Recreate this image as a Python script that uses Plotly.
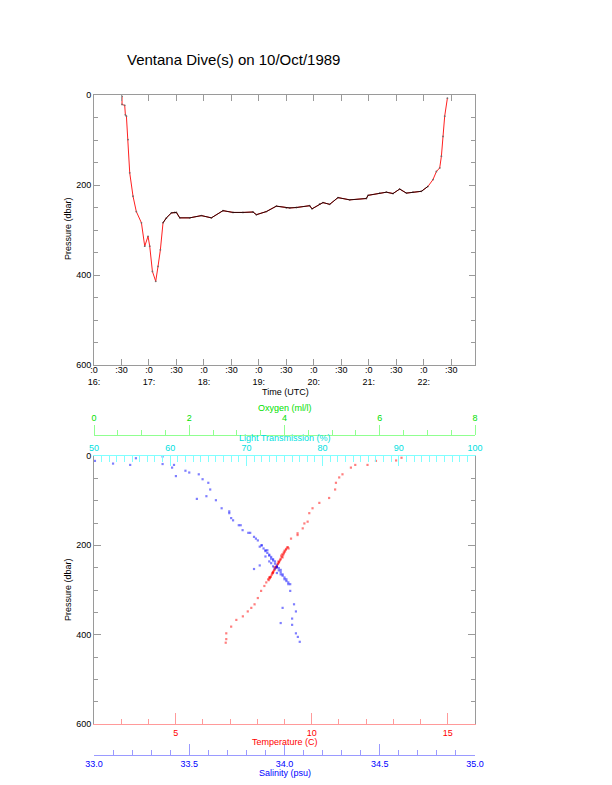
import plotly.graph_objects as go

W, H = 612, 785
PAGE_MARGIN = 8   # the html body margin shifts the figure by this many px

# ---------------- data: dive track (top panel) ----------------
DATE = "1989-10-10"
track_time = ["16:30:36", "16:30:36", "16:33:32", "16:34:16", "16:35:24", "16:37:08", "16:39:00",
              "16:42:36", "16:46:12", "16:51:47", "16:55:23", "16:58:59", "17:00:50", "17:03:47",
              "17:07:23", "17:09:54", "17:12:29", "17:15:22", "17:19:05", "17:24:32", "17:28:08",
              "17:30:00", "17:33:36", "17:44:31", "17:57:18", "18:08:10", "18:20:53", "18:31:48",
              "18:42:36", "18:53:38", "18:57:18", "19:08:13", "19:19:08", "19:30:04", "19:33:40",
              "19:41:00", "19:55:30", "19:58:01", "20:06:25", "20:10:01", "20:17:20", "20:26:24",
              "20:39:11", "20:57:25", "20:59:10", "21:11:56", "21:19:16", "21:26:28", "21:33:47",
              "21:41:06", "21:48:18", "21:57:29", "22:04:41", "22:10:08", "22:13:52", "22:17:28",
              "22:19:19", "22:21:04", "22:22:55", "22:25:52"]
track_pres = [3, 21, 23, 44, 47, 99, 173,
              225, 259, 284, 336, 314, 336, 392,
              414, 381, 344, 284, 273, 262, 261,
              261, 273, 273, 268, 273, 257, 261,
              261, 260, 266, 259, 247, 251, 251,
              250, 246, 253, 242, 239, 243, 228,
              233, 230, 223, 218, 216, 219, 209,
              218, 216, 214, 203, 188, 170, 162,
              136, 92, 47, 7]
BOTTOM_FIRST, BOTTOM_LAST = 17, 52   # index span of the bottom phase

time_ticks = ["16:00", "16:30", "17:00", "17:30", "18:00", "18:30", "19:00", "19:30",
              "20:00", "20:30", "21:00", "21:30", "22:00", "22:30"]
time_tick_text = [":0<br>16:", ":30", ":0<br>17:", ":30", ":0<br>18:", ":30", ":0<br>19:", ":30",
                  ":0<br>20:", ":30", ":0<br>21:", ":30", ":0<br>22:", ":30"]
time_range = ["16:00:00", "22:56:00"]

# ---------------- data: profiles (bottom panel) ----------------
temp_T = [13.3, 13.1, 12.36, 12.05, 11.6, 11.44, 11.13, 11.01, 10.89, 10.86, 10.64, 10.28, 10.03,
          9.91, 9.85, 9.73, 9.67, 9.48, 9.48, 9.24, 9.12, 9.06, 8.93, 8.88, 8.79, 8.69, 8.63,
          8.57, 8.45, 8.45, 8.33, 8.26, 8.14, 8.02, 7.90, 7.78, 7.65, 7.47, 7.23, 7.04, 6.86,
          6.86, 6.84,
          9.10, 9.05, 9.02, 8.98, 8.95, 8.90, 8.86, 8.83, 8.80, 8.76, 8.72, 8.68, 8.64, 8.60,
          8.57, 8.53, 8.50, 8.46, 8.42, 9.15, 8.92, 8.85, 8.75, 8.62, 8.55, 8.48, 8.40, 8.97,
          8.70, 9.00, 8.78, 8.58]
temp_P = [4, 10, 11, 20, 20, 26, 41, 48, 60, 75, 94, 105, 117,
          128, 147, 151, 162, 173, 177, 185, 204, 208, 227, 223, 238, 249, 249,
          261, 272, 272, 283, 291, 302, 318, 332, 340, 348, 359, 367, 382, 397,
          410, 418,
          205, 210, 214, 218, 222, 226, 230, 234, 238, 242, 246, 250, 254, 258,
          262, 266, 270, 274, 278, 207, 220, 232, 241, 255, 263, 271, 276, 216,
          248, 212, 236, 260]

sal_S = [33.005, 33.22, 33.36, 33.10, 33.19, 33.36, 33.42, 33.41, 33.43, 33.48, 33.50, 33.55,
         33.57, 33.60, 33.61, 33.59, 33.54, 33.64, 33.67, 33.71, 33.72, 33.76, 33.78, 33.82,
         33.84, 33.86, 33.88, 33.90, 33.92, 33.94, 33.96, 33.99, 34.01, 34.03,
         33.71, 33.73, 33.77, 33.81, 33.85, 33.88, 33.91, 33.93, 33.96, 33.98, 34.00, 34.02,
         34.03, 34.05, 34.06, 34.04, 34.04, 34.06, 34.07, 34.08, 33.99, 33.98, 33.84, 33.87,
         33.87, 33.89, 33.90, 33.91, 33.92, 33.93, 33.94, 33.95, 33.95, 33.96, 33.97, 33.97,
         33.98, 33.99, 34.00, 34.01, 33.93, 33.95, 33.94, 33.98, 33.92, 33.96, 34.02, 33.90]
sal_P = [11, 5, 1, 17, 20, 18, 20, 26, 45, 33, 37, 41,
         52, 60, 75, 90, 96, 99, 117, 128, 139, 155, 166, 172,
         181, 189, 200, 211, 223, 234, 249, 265, 276, 287,
         124, 144, 155, 172, 185, 200, 211, 230, 249, 265, 276, 287,
         302, 332, 348, 364, 378, 397, 405, 416, 340, 374, 253, 245,
         203, 207, 213, 217, 221, 226, 231, 236, 241, 245, 251, 256,
         260, 268, 272, 280, 240, 252, 247, 255, 236, 262, 283, 225]

pres_ticks = [0, 200, 400, 600]

# ---------------- styling / layout helpers ----------------
FONT = "Liberation Sans, Arial, Helvetica, sans-serif"
GRAY = "#9a9a9a"
def px_x(p):
    return (p - PAGE_MARGIN) / W
def px_y(p):
    return 1 - (p - PAGE_MARGIN) / H

XDOM = [px_x(94), px_x(475)]
TOP_YDOM = [px_y(365), px_y(95)]
BOT_YDOM = [px_y(724), px_y(456)]

fig = go.Figure()

ttimes = [f"{DATE} {t}" for t in track_time]
fig.add_trace(go.Scatter(x=ttimes, y=track_pres, mode="lines+markers",
                         line=dict(color="#ff2020", width=1),
                         marker=dict(color="#7a6a6a", size=1.8),
                         xaxis="x", yaxis="y", hoverinfo="skip", showlegend=False))
fig.add_trace(go.Scatter(x=ttimes[BOTTOM_FIRST:BOTTOM_LAST + 1],
                         y=track_pres[BOTTOM_FIRST:BOTTOM_LAST + 1], mode="lines",
                         line=dict(color="#2a0505", width=1),
                         xaxis="x", yaxis="y", hoverinfo="skip", showlegend=False))

fig.add_trace(go.Scatter(x=temp_T, y=temp_P, mode="markers",
                         marker=dict(color="rgba(255,0,0,0.5)", size=2.2, symbol="square",
                                     line=dict(width=0)),
                         xaxis="x2", yaxis="y2", hoverinfo="skip", showlegend=False))
fig.add_trace(go.Scatter(x=sal_S, y=sal_P, mode="markers",
                         marker=dict(color="rgba(0,0,255,0.5)", size=2.2, symbol="square",
                                     line=dict(width=0)),
                         xaxis="x5", yaxis="y2", hoverinfo="skip", showlegend=False))
# placeholders so the extra axes are drawn
fig.add_trace(go.Scatter(x=[None], y=[None], xaxis="x3", yaxis="y2", showlegend=False, hoverinfo="skip"))
fig.add_trace(go.Scatter(x=[None], y=[None], xaxis="x4", yaxis="y2", showlegend=False, hoverinfo="skip"))

tickfont = dict(family=FONT, size=9, color="black")

fig.update_layout(
    template="none",
    width=W, height=H, autosize=False,
    margin=dict(l=0, r=0, t=0, b=0, pad=0),
    paper_bgcolor="white", plot_bgcolor="white",
    showlegend=False,
    font=dict(family=FONT, size=9, color="black"),
    xaxis=dict(domain=XDOM, anchor="y", type="date", automargin=False,
               range=[f"{DATE} {time_range[0]}", f"{DATE} {time_range[1]}"],
               tickvals=[f"{DATE} {t}" for t in time_ticks], ticktext=time_tick_text,
               ticks="inside", ticklen=6, tickcolor=GRAY, showline=True, linecolor=GRAY,
               mirror="ticks", showgrid=False, zeroline=False, tickfont=tickfont,
               tickangle=0, ticklabelstandoff=-4),
    yaxis=dict(domain=TOP_YDOM, anchor="x", range=[600, 0], automargin=False,
               tickvals=pres_ticks, ticks="inside", ticklen=6, tickcolor=GRAY,
               minor=dict(dtick=50, ticks="inside", ticklen=4, tickcolor=GRAY, showgrid=False),
               showline=True, linecolor=GRAY, mirror="ticks", showgrid=False, zeroline=False,
               tickfont=tickfont),
    # temperature (bottom of lower panel)
    xaxis2=dict(domain=XDOM, anchor="y2", side="bottom", range=[2, 16], automargin=False,
                tickvals=[5, 10, 15], ticks="inside", ticklen=11, tickcolor="#ff9a9a",
                minor=dict(dtick=1, ticks="inside", ticklen=5, tickcolor="#ff9a9a", showgrid=False),
                showline=True, linecolor="#ff9a9a", showgrid=False, zeroline=False,
                tickfont=dict(family=FONT, size=9, color="#ff0000")),
    # light transmission (top of lower panel)
    xaxis3=dict(overlaying="x2", anchor="y2", side="top", range=[50, 100], automargin=False,
                dtick=10, ticks="inside", ticklen=10, tickcolor="#80ffff",
                minor=dict(dtick=1, ticks="inside", ticklen=6, tickcolor="#80ffff", showgrid=False),
                showline=True, linecolor="#80ffff", showgrid=False, zeroline=False,
                tickfont=dict(family=FONT, size=9, color="#00e0e0")),
    # oxygen (free axis above)
    xaxis4=dict(overlaying="x2", anchor="free", position=px_y(435), side="top", range=[0, 8],
                automargin=False,
                dtick=2, ticks="outside", ticklen=10, tickcolor="#90ff90",
                minor=dict(dtick=0.5, ticks="outside", ticklen=5, tickcolor="#90ff90", showgrid=False),
                showline=True, linecolor="#90ff90", showgrid=False, zeroline=False,
                tickfont=dict(family=FONT, size=9, color="#00e000")),
    # salinity (free axis below)
    xaxis5=dict(overlaying="x2", anchor="free", position=px_y(755), side="bottom",
                range=[33.0, 35.0], tickvals=[33.0, 33.5, 34.0, 34.5, 35.0],
                ticktext=["33.0", "33.5", "34.0", "34.5", "35.0"], automargin=False,
                ticks="inside", ticklen=11, tickcolor="#9a9aff",
                minor=dict(dtick=0.1, ticks="inside", ticklen=5, tickcolor="#9a9aff", showgrid=False),
                showline=True, linecolor="#9a9aff", showgrid=False, zeroline=False,
                tickfont=dict(family=FONT, size=9, color="#0000ff")),
    yaxis2=dict(domain=BOT_YDOM, anchor="x2", range=[600, 0], automargin=False,
                tickvals=pres_ticks, ticks="inside", ticklen=7, tickcolor=GRAY,
                minor=dict(dtick=50, ticks="inside", ticklen=4, tickcolor=GRAY, showgrid=False),
                showline=True, linecolor=GRAY, mirror="ticks", showgrid=False, zeroline=False,
                tickfont=tickfont),
)

def label(text, x, y, color="black", size=9, angle=0):
    fig.add_annotation(text=text, x=px_x(x), y=px_y(y), xref="paper", yref="paper",
                       showarrow=False, textangle=angle, xanchor="center", yanchor="middle",
                       font=dict(family=FONT, size=size, color=color))

label("Ventana Dive(s) on 10/Oct/1989", 233, 60, size=15)
label("Pressure (dbar)", 68, 229, angle=-90)
label("Time (UTC)", 285, 392)
label("Pressure (dbar)", 68, 590, angle=-90)
label("Oxygen (ml/l)", 285, 408, color="#00e000")
label("Light Transmission (%)", 285, 438, color="#00e0e0")
label("Temperature (C)", 285, 742, color="#ff0000")
label("Salinity (psu)", 285, 773, color="#0000ff")

fig.write_html("out.html")
